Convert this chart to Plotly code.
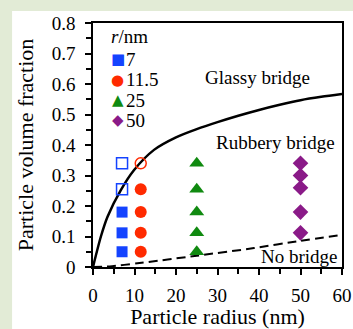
import plotly.graph_objects as go

# ---- data ----
sq_x = [7, 7, 7]
sq_y = [0.05, 0.112, 0.18]
sq_open_x = [7, 7]
sq_open_y = [0.255, 0.34]
ci_x = [11.5, 11.5, 11.5, 11.5]
ci_y = [0.05, 0.112, 0.18, 0.255]
ci_open_x = [11.5]
ci_open_y = [0.34]
tr_x = [25, 25, 25, 25, 25]
tr_y = [0.05, 0.112, 0.18, 0.255, 0.34]
di_x = [50, 50, 50, 50, 50]
di_y = [0.112, 0.18, 0.26, 0.30, 0.34]

glassy_x = [0, 1.9, 3.5, 6.7, 9.9, 14.7, 20, 25, 30, 35, 40, 45, 50, 55, 60]
glassy_y = [0, 0.10, 0.165, 0.252, 0.318, 0.384, 0.425, 0.452, 0.475, 0.496, 0.515, 0.532, 0.547, 0.558, 0.567]
nobridge_x = [0, 4, 10.7, 25, 38.8, 50, 60]
nobridge_y = [0, 0.002, 0.012, 0.037, 0.062, 0.086, 0.105]

x_ticks = [0, 10, 20, 30, 40, 50, 60]
y_ticks = [0, 0.1, 0.2, 0.3, 0.4, 0.5, 0.6, 0.7, 0.8]
y_ticktext = ["0", "0.1", "0.2", "0.3", "0.4", "0.5", "0.6", "0.7", "0.8"]

legend_labels = ["7", "11.5", "25", "50"]
BLUE = "#1443ff"
RED = "#ff2a00"
GREEN = "#108a10"
PURPLE = "#8a1a88"
legend_glyphs = ["■", "●", "▲", "◆"]
legend_colors = [BLUE, RED, GREEN, PURPLE]

FONT = "Liberation Serif, Times New Roman, serif"

fig = go.Figure()
fig.add_trace(go.Scatter(x=glassy_x, y=glassy_y, mode="lines",
                         line=dict(color="black", width=2.5, shape="spline", smoothing=0.8)))
fig.add_trace(go.Scatter(x=nobridge_x, y=nobridge_y, mode="lines",
                         line=dict(color="black", width=2, dash="9px,5px", shape="spline", smoothing=0.6)))
fig.add_trace(go.Scatter(x=sq_x, y=sq_y, mode="markers",
                         marker=dict(symbol="square", size=11, color=BLUE)))
fig.add_trace(go.Scatter(x=sq_open_x, y=sq_open_y, mode="markers",
                         marker=dict(symbol="square-open", size=11, color=BLUE, line=dict(width=1.5))))
fig.add_trace(go.Scatter(x=ci_x, y=ci_y, mode="markers",
                         marker=dict(symbol="circle", size=12, color=RED)))
fig.add_trace(go.Scatter(x=ci_open_x, y=ci_open_y, mode="markers",
                         marker=dict(symbol="circle-open", size=11, color=RED, line=dict(width=1.5))))
fig.add_trace(go.Scatter(x=tr_x, y=tr_y, mode="markers",
                         marker=dict(symbol="triangle-up", size=13, color=GREEN)))
fig.add_trace(go.Scatter(x=di_x, y=di_y, mode="markers",
                         marker=dict(symbol="diamond", size=12, color=PURPLE)))


def ann(text, x, y, xanchor="center", font=None):
    return dict(text=text, x=x, y=y, xref="paper", yref="paper",
                xanchor=xanchor, yanchor="middle", showarrow=False,
                font=font or dict(size=19))


annotations = [
    ann("Glassy bridge", 0.661, 0.775),
    ann("Rubbery bridge", 0.731, 0.512),
    ann("No bridge", 0.831, 0.041),
    ann("<i>r</i>/nm", 0.066, 0.943, xanchor="left"),
]
row_y = [0.852, 0.768, 0.684, 0.602]
for g, c, lab, ry in zip(legend_glyphs, legend_colors, legend_labels, row_y):
    annotations.append(ann(g, 0.100, ry, font=dict(family="DejaVu Sans", size=15, color=c)))
    annotations.append(ann(lab, 0.124, ry, xanchor="left"))

fig.update_layout(
    width=353, height=329,
    margin=dict(l=93, r=11, t=23, b=62),
    paper_bgcolor="#e2ebd6",
    plot_bgcolor="white",
    showlegend=False,
    font=dict(family=FONT, color="black", size=19),
    annotations=annotations,
    shapes=[dict(type="rect", xref="paper", yref="paper",
                 x0=-0.325, x1=1.05, y0=-0.26, y1=1.049,
                 fillcolor="white", line=dict(width=0), layer="below")],
)
fig.update_xaxes(range=[0, 60], tickvals=x_ticks, showgrid=False, zeroline=False, automargin=False,
                 showline=True, linecolor="black", linewidth=1.5, mirror=True,
                 ticks="outside", ticklen=6, tickwidth=1.5, tickcolor="black",
                 ticklabelstandoff=4,
                 minor=dict(dtick=5, ticks="outside", ticklen=5, tickwidth=1.5, tickcolor="black"),
                 tickfont=dict(size=19),
                 title=dict(text="Particle radius (nm)", font=dict(size=22), standoff=0))
fig.update_yaxes(range=[0, 0.8], tickvals=y_ticks, ticktext=y_ticktext, showgrid=False, zeroline=False,
                 automargin=False,
                 showline=True, linecolor="black", linewidth=1.5, mirror=True,
                 ticks="outside", ticklen=6, tickwidth=1.5, tickcolor="black",
                 ticklabelstandoff=6,
                 minor=dict(dtick=0.05, ticks="outside", ticklen=5, tickwidth=1.5, tickcolor="black"),
                 tickfont=dict(size=19),
                 title=dict(text="Particle volume fraction", font=dict(size=22), standoff=12))

fig.write_html("out.html", config={"displayModeBar": False},
               post_script="document.body.style.margin='0';")
